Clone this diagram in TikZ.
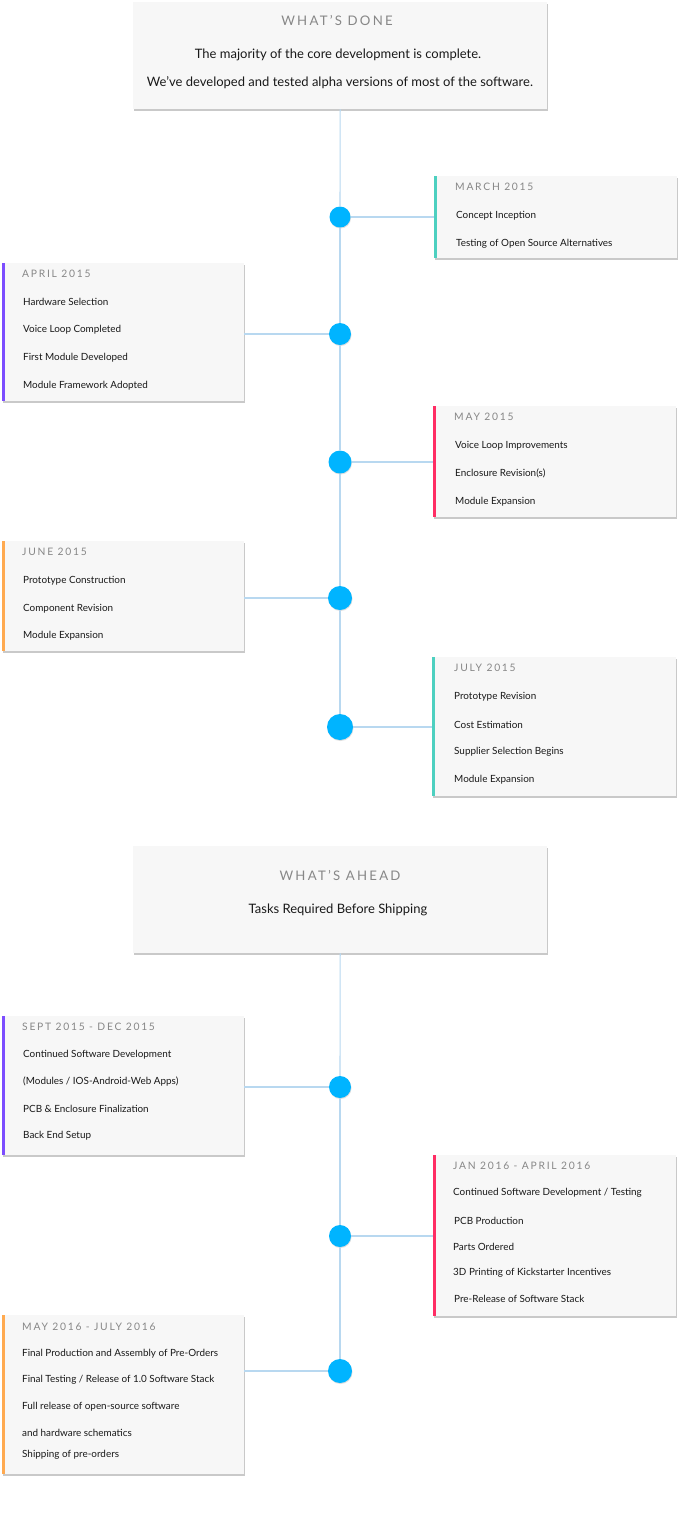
\documentclass[tikz,border=0pt]{standalone}
\usepackage{fontspec}
\setmainfont{Lato}
\newfontfamily\ttlfont[LetterSpace=17]{Lato}
\usetikzlibrary{shadows}
\definecolor{cardbg}{RGB}{247,247,247}
\definecolor{dotc}{RGB}{0,180,255}
\definecolor{linec}{RGB}{184,216,240}
\definecolor{ttlc}{RGB}{135,135,135}
\definecolor{txtc}{RGB}{25,25,25}
\definecolor{accteal}{RGB}{77,208,192}
\definecolor{accpurple}{RGB}{124,77,255}
\definecolor{accpink}{RGB}{255,45,100}
\definecolor{accorange}{RGB}{255,170,80}
\tikzset{
  card/.style={rectangle, fill=cardbg, inner sep=0pt, anchor=north west,
    drop shadow={opacity=0.35, shadow xshift=0.6pt, shadow yshift=-1.4pt, fill=black!60}},
  bigbox/.style={card, minimum width=414pt, minimum height=107pt},
  dot/.style={circle, fill=dotc, inner sep=0pt, minimum size=#1,
    drop shadow={opacity=0.25, shadow xshift=0.5pt, shadow yshift=-1pt}},
  conn/.style={draw=linec, line width=1.1pt},
  ttl/.style={anchor=west, inner sep=0pt, yshift=-1pt, text=ttlc, font=\ttlfont\fontsize{10.3}{12}\selectfont},
  bigttl/.style={inner sep=0pt, yshift=-1pt, text=ttlc, font=\ttlfont\fontsize{13.2}{15}\selectfont},
  bigtxt/.style={inner sep=0pt, yshift=-2pt, text=txtc, font=\fontsize{13}{15}\selectfont},
  txt/.style={anchor=west, inner sep=0pt, yshift=-1.5pt, text=txtc, font=\fontsize{9.9}{12}\selectfont},
}
\newcommand\accbar[2]{\fill[#2] (#1.north west) rectangle ([xshift=3pt]#1.south west);}
\begin{document}
\begin{tikzpicture}[x=1pt,y=-1pt]
\useasboundingbox[fill=white] (0,0) rectangle (680,1527);

% ---------- WHAT'S DONE ----------
\node[bigbox] (done) at (133,2) {};
\node[bigttl] (doneT) at (337,20) {WHAT’S DONE};
\node[bigtxt] (doneA) at (338,53) {The majority of the core development is complete.};
\node[bigtxt] (doneB) at (340,81) {We've developed and tested alpha versions of most of the software.};

% cards
\node[card, minimum width=243pt, minimum height=82pt] (c1) at (434,176) {};
\node[card, minimum width=242pt, minimum height=138pt] (c2) at (2,263) {};
\node[card, minimum width=243pt, minimum height=111pt] (c3) at (433,406) {};
\node[card, minimum width=242pt, minimum height=110pt] (c4) at (2,541) {};
\node[card, minimum width=244pt, minimum height=139pt] (c5) at (432,657) {};

% dots
\node[dot=21pt] (d1) at (340,217) {};
\node[dot=22pt] (d2) at (340,334) {};
\node[dot=23pt] (d3) at (340,462) {};
\node[dot=24pt] (d4) at (340,598) {};
\node[dot=26pt] (d5) at (340,727) {};

% timeline
\draw[conn] (done.south) -- (d1);
\draw[conn] (d1) -- (d2);
\draw[conn] (d2) -- (d3);
\draw[conn] (d3) -- (d4);
\draw[conn] (d4) -- (d5);
\draw[conn] (d1) -- (d1 -| c1.west);
\draw[conn] (d2) -- (d2 -| c2.east);
\draw[conn] (d3) -- (d3 -| c3.west);
\draw[conn] (d4) -- (d4 -| c4.east);
\draw[conn] (d5) -- (d5 -| c5.west);

\accbar{c1}{accteal}
\accbar{c2}{accpurple}
\accbar{c3}{accpink}
\accbar{c4}{accorange}
\accbar{c5}{accteal}

\node[ttl] (c1t) at (455,186) {MARCH 2015};
\node[txt] (c1a) at (456,214) {Concept Inception};
\node[txt] (c1b) at (456,242) {Testing of Open Source Alternatives};

\node[ttl] (c2t) at (22,273) {APRIL 2015};
\node[txt] (c2a) at (23,300) {Hardware Selection};
\node[txt] (c2b) at (23,328) {Voice Loop Completed};
\node[txt] (c2c) at (23,356) {First Module Developed};
\node[txt] (c2d) at (23,384) {Module Framework Adopted};

\node[ttl] (c3t) at (454,416) {MAY 2015};
\node[txt] (c3a) at (455,444) {Voice Loop Improvements};
\node[txt] (c3b) at (455,472) {Enclosure Revision(s)};
\node[txt] (c3c) at (455,500) {Module Expansion};

\node[ttl] (c4t) at (22,551) {JUNE 2015};
\node[txt] (c4a) at (23,579) {Prototype Construction};
\node[txt] (c4b) at (23,607) {Component Revision};
\node[txt] (c4c) at (23,634) {Module Expansion};

\node[ttl] (c5t) at (454,667) {JULY 2015};
\node[txt] (c5a) at (454,695) {Prototype Revision};
\node[txt] (c5b) at (454,723) {Cost Estimation};
\node[txt] (c5c) at (454,750) {Supplier Selection Begins};
\node[txt] (c5d) at (454,778) {Module Expansion};

% ---------- WHAT'S AHEAD ----------
\node[bigbox] (ahead) at (133,846) {};
\node[bigttl] (aheadT) at (340,874) {WHAT’S AHEAD};
\node[bigtxt] (aheadA) at (338,908) {Tasks Required Before Shipping};

\node[card, minimum width=242pt, minimum height=139pt] (c6) at (2,1016) {};
\node[card, minimum width=243pt, minimum height=161pt] (c7) at (433,1155) {};
\node[card, minimum width=242pt, minimum height=159pt] (c8) at (2,1315) {};

\node[dot=22pt] (d6) at (340,1087) {};
\node[dot=22pt] (d7) at (340,1236) {};
\node[dot=24pt] (d8) at (340,1371) {};

\draw[conn] (ahead.south) -- (d6);
\draw[conn] (d6) -- (d7);
\draw[conn] (d7) -- (d8);
\draw[conn] (d6) -- (d6 -| c6.east);
\draw[conn] (d7) -- (d7 -| c7.west);
\draw[conn] (d8) -- (d8 -| c8.east);

\accbar{c6}{accpurple}
\accbar{c7}{accpink}
\accbar{c8}{accorange}

\node[ttl] (c6t) at (22,1026) {SEPT 2015 - DEC 2015};
\node[txt] (c6a) at (23,1053) {Continued Software Development};
\node[txt] (c6b) at (23,1080) {(Modules / IOS-Android-Web Apps)};
\node[txt] (c6c) at (23,1107) {PCB \& Enclosure Finalization};
\node[txt] (c6d) at (23,1134) {Back End Setup};

\node[ttl] (c7t) at (453,1165) {JAN 2016 - APRIL 2016};
\node[txt] (c7a) at (453,1191) {Continued Software Development / Testing};
\node[txt] (c7b) at (454,1219) {PCB Production};
\node[txt] (c7c) at (453,1245) {Parts Ordered};
\node[txt] (c7d) at (453,1271) {3D Printing of Kickstarter Incentives};
\node[txt] (c7e) at (454,1297) {Pre-Release of Software Stack};

\node[ttl] (c8t) at (22,1326) {MAY 2016 - JULY 2016};
\node[txt] (c8a) at (22,1352) {Final Production and Assembly of Pre-Orders};
\node[txt] (c8b) at (22,1378) {Final Testing / Release of 1.0 Software Stack};
\node[txt] (c8c) at (22,1405) {Full release of open-source software};
\node[txt] (c8d) at (22,1431) {and hardware schematics};
\node[txt] (c8e) at (22,1453) {Shipping of pre-orders};
\end{tikzpicture}
\end{document}
